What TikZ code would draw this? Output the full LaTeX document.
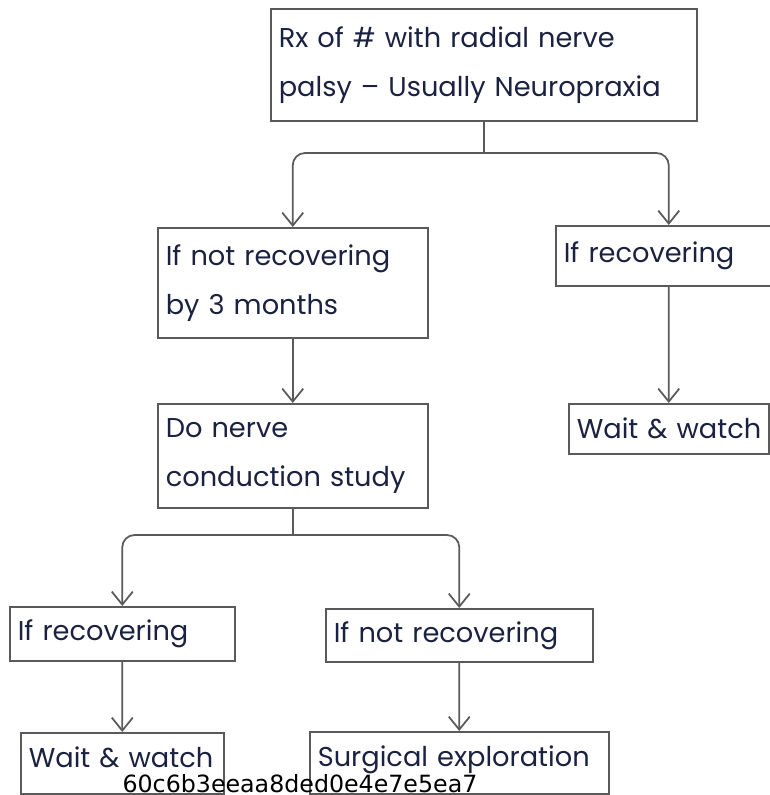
\documentclass[tikz,border=0pt]{standalone}
\usepackage{fontspec}
\setmainfont{Poppins}
\newfontfamily\tagfont{DejaVu Sans}
\usepackage{tikz}
\usetikzlibrary{arrows.meta,positioning}
\definecolor{rxink}{HTML}{1B2140}
\definecolor{rxline}{HTML}{5A5A5A}
\hyphenpenalty=10000
\tikzset{
  box/.style={draw=rxline,line width=0.9pt,fill=white,align=left,inner xsep=0.16cm,inner ysep=0pt,text=rxink,anchor=north west},
  ln/.style={draw=rxline,line width=1pt},
  ar/.style={ln,-{Straight Barb[length=2.6mm,width=4.2mm]}},
  split/.style={ar,rounded corners=7pt},
}

\begin{document}
\begin{tikzpicture}[x=0.02cm,y=-0.02cm,font=\fontsize{15.5}{28}\selectfont]
  \useasboundingbox[fill=white] (0,0) rectangle (769,795);
  \node[box,text width=8.2cm,minimum height=2.24cm] (root) at (270,8) {Rx of \# with radial nerve\\palsy -- Usually Neuropraxia};
  \node[box,text width=5.08cm,minimum height=2.2cm] (nrec) at (157,227) {If not recovering\\by 3 months};
  \node[box,text width=4.2cm,minimum height=1.2cm] (rec) at (555,225) {If~recovering};
  \node[box,text width=5.08cm,minimum height=2.08cm] (ncs) at (157,403) {Do nerve\\conduction~study};
  \node[box,text width=3.68cm,minimum height=1.0cm] (waitA) at (568,403) {Wait~\&~watch};
  \node[box,text width=4.18cm,minimum height=1.08cm] (brec) at (9,606) {If~recovering};
  \node[box,text width=5.02cm,minimum height=1.06cm] (bnrec) at (325,608) {If~not~recovering};
  \node[box,text width=3.74cm,minimum height=1.22cm,text depth=0.26cm] (waitB) at (20,732) {Wait~\&~watch};
  \node[box,text width=5.66cm,minimum height=1.24cm,text depth=0.26cm] (surg) at (309,731) {Surgical~exploration};
  \coordinate (s1) at (root.south |- 0,153);
  \coordinate (s2) at (ncs.south |- 0,535);
  \draw[ln] (root) -- (s1);
  \draw[split] (s1) -| (nrec); \draw[split] (s1) -| (rec);
  \draw[ar] (nrec) -- (ncs); \draw[ar] (rec) -- (waitA);
  \draw[ln] (ncs) -- (s2);
  \draw[split] (s2) -| (brec); \draw[split] (s2) -| (bnrec);
  \draw[ar] (brec) -- (waitB); \draw[ar] (bnrec) -- (surg);
  \node[font=\tagfont\fontsize{13.5}{13.5}\selectfont,anchor=base,inner sep=0pt] (tag) at (300,792) {60c6b3eeaa8ded0e4e7e5ea7};
\end{tikzpicture}
\end{document}
